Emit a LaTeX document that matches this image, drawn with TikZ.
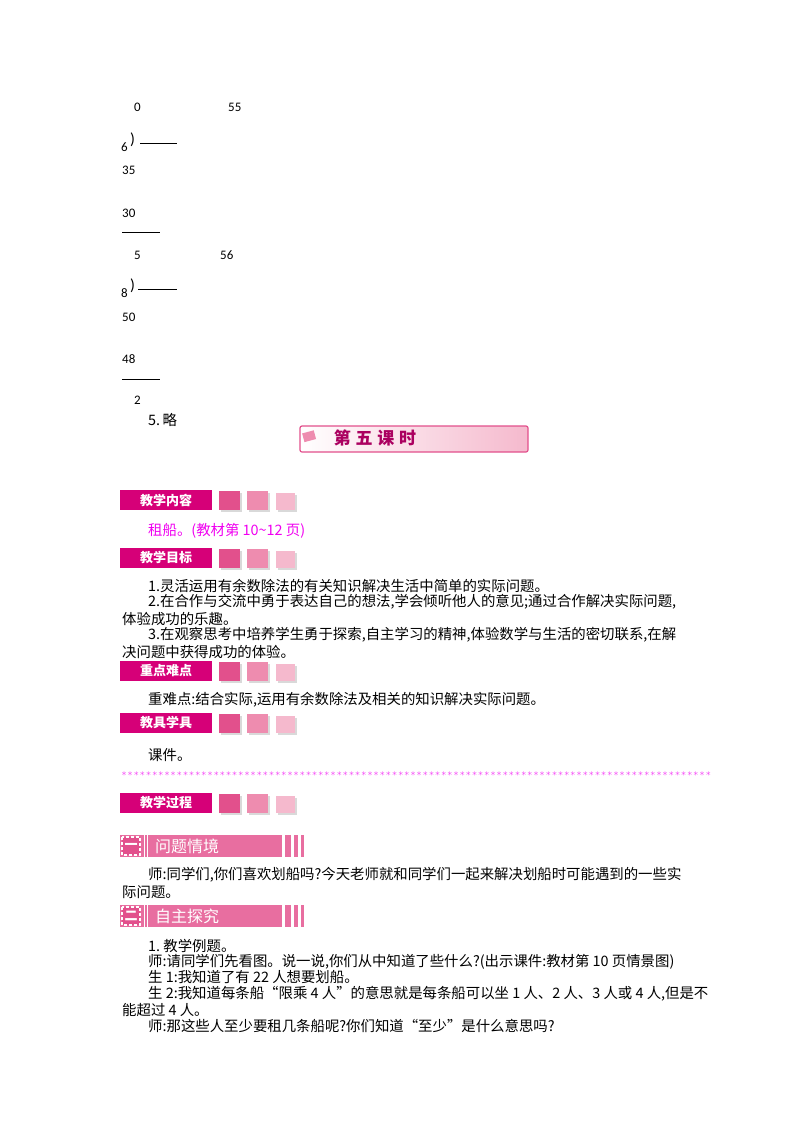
\documentclass[tikz,border=0pt]{standalone}
\usepackage{fontspec}
\usetikzlibrary{shadows}
\setmainfont{Carlito}
\newfontfamily\cjk{Noto Sans CJK SC}
\newfontfamily\djvfont{DejaVu Sans}
\definecolor{mg}{RGB}{214,0,120}
\definecolor{p1}{RGB}{226,80,140}
\definecolor{p2}{RGB}{238,140,175}
\definecolor{p3}{RGB}{245,185,205}
\definecolor{bar}{RGB}{232,110,160}
\definecolor{txtm}{RGB}{240,0,240}
\begin{document}
\begin{tikzpicture}[x=1pt,y=-1pt,
  t/.style={anchor=west,inner sep=0pt,font=\cjk\fontsize{14.4}{16}\selectfont},
  n/.style={anchor=west,inner sep=0pt,font=\fontsize{13}{15}\selectfont},
  hdr/.style={fill=mg,text=white,inner sep=0pt,minimum width=92pt,minimum height=20pt,font=\cjk\bfseries\fontsize{13}{15}\selectfont},
  sq/.style={minimum width=21pt,minimum height=19pt,inner sep=0pt,drop shadow={opacity=0.3}},
]
\useasboundingbox (0,0) rectangle (800,1132);
% long divisions
\node[n] (a0) at (134,107) {0};
\node[n] (a55) at (228,107) {55};
\node[n] (a6) at (121,147) {6};
\node[n,font=\fontsize{16}{18}\selectfont] (p1) at (130,140) {)};
\draw (140,143) -- (177,143);
\node[n] (a35) at (122,170) {35};
\node[n] (a30) at (122,213) {30};
\draw[thick] (122,232) -- (160,232);
\node[n] (b5) at (134,255) {5};
\node[n] (b56) at (220,255) {56};
\node[n] (b8) at (121,293) {8};
\node[n,font=\fontsize{16}{18}\selectfont] (p2) at (130,286) {)};
\draw[thick] (138,289) -- (177,289);
\node[n] (b50) at (122,317) {50};
\node[n] (b48) at (122,359) {48};
\draw (122,379) -- (160,379);
\node[n] (b2) at (134,400) {2};
\node[t] (five) at (148,420) {5.\,略};
% banner
\shade[left color=white,right color=p3,rounded corners=2pt] (300,426) rectangle (528,452);
\draw[p1,line width=1.2pt,rounded corners=2pt] (300,426) rectangle (528,452);
\fill[p2,rotate around={15:(308,436)}] (303,432) rectangle (315,441);
\node[font=\cjk\bfseries\fontsize{17}{19}\selectfont,text=mg!80!black,anchor=center] (title) at (375,438) {第\;五\;课\;时};
% section headers
\foreach \y/\s/\nm in {500/教学内容/h1,558/教学目标/h2,671/重点难点/h3,723/教具学具/h4,803/教学过程/h5}{
  \node[hdr,anchor=west] (\nm) at (120,\y) {\s};
  \node[sq,fill=p1] at (229,\y) {};
  \node[sq,fill=p2] at (257,\y) {};
  \node[sq,fill=p3,minimum width=19pt,minimum height=17pt] at (285,\y+1) {};
}
\node[t,text=txtm] (c1) at (148,531) {租船。(教材第 10\textasciitilde12 页)};
\node[t] (g1) at (148,586) {1.灵活运用有余数除法的有关知识解决生活中简单的实际问题。};
\node[t] (g2) at (148,602) {2.在合作与交流中勇于表达自己的想法,学会倾听他人的意见;通过合作解决实际问题,};
\node[t] (g2b) at (122,619) {体验成功的乐趣。};
\node[t] (g3) at (148,635) {3.在观察思考中培养学生勇于探索,自主学习的精神,体验数学与生活的密切联系,在解};
\node[t] (g3b) at (122,652) {决问题中获得成功的体验。};
\node[t] (k1) at (148,700) {重难点:结合实际,运用有余数除法及相关的知识解决实际问题。};
\node[t] (j1) at (148,755) {课件。};
\foreach \i in {0,...,95}{
  \node[inner sep=0pt,text=txtm!70!white,font=\djvfont\fontsize{9}{9}\selectfont] at (124+\i*6.15,775) {*};
}
% numbered bars
\foreach \y/\num/\s/\nm in {846/一/问题情境/s1,916/二/自主探究/s2}{
  \fill[bar] (120,\y-11) rectangle (282,\y+11);
  \fill[bar] (285,\y-11) rectangle (291,\y+11);
  \fill[bar] (294,\y-11) rectangle (298,\y+11);
  \fill[bar] (301,\y-11) rectangle (304,\y+11);
  \draw[white,line width=1.2pt,densely dashed,fill=p1] (122,\y-9) rectangle (140,\y+9);
  \node[font=\cjk\bfseries\fontsize{13}{14}\selectfont,text=white] at (131,\y) {\num};
  \draw[white,line width=1pt] (144,\y-11) -- (144,\y+11);
  \draw[white,line width=1pt] (147,\y-11) -- (147,\y+11);
  \node[t,text=white,font=\cjk\fontsize{16}{17}\selectfont] (\nm) at (155,\y) {\s};
}
\node[t] (q1) at (148,875) {师:同学们,你们喜欢划船吗?今天老师就和同学们一起来解决划船时可能遇到的一些实};
\node[t] (q1b) at (122,892) {际问题。};
\node[t] (e1) at (148,946) {1.\ 教学例题。};
\node[t] (e2) at (148,962) {师:请同学们先看图。说一说,你们从中知道了些什么?(出示课件:教材第 10 页情景图)};
\node[t] (e3) at (148,977) {生 1:我知道了有 22 人想要划船。};
\node[t] (e4) at (148,994) {生 2:我知道每条船“限乘 4 人”的意思就是每条船可以坐 1 人、2 人、3 人或 4 人,但是不};
\node[t] (e4b) at (122,1010) {能超过 4 人。};
\node[t] (e5) at (148,1026) {师:那这些人至少要租几条船呢?你们知道“至少”是什么意思吗?};
\end{tikzpicture}
\end{document}
